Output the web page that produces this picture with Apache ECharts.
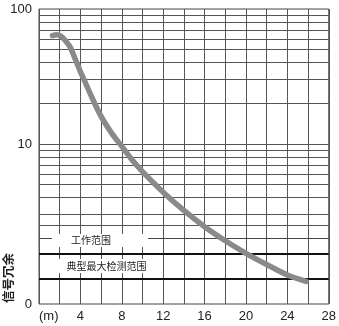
<!DOCTYPE html>
<html>
<head>
<meta charset="utf-8">
<script src="https://cdn.jsdelivr.net/npm/echarts@6/dist/echarts.min.js"></script>
<style>
html,body{margin:0;padding:0;background:#fff;}
#chart{width:339px;height:326px;}
</style>
</head>
<body>
<div id="chart"></div>
<script>
// Data
const distance = [1.3, 1.7, 2.1, 2.5, 3.0, 3.5, 4.0, 4.5, 5.0, 6.0, 7.0, 8.0, 9.0, 10, 12, 14, 16, 18, 20, 22, 24, 25.8];
const excessGain = [63.5, 64.5, 63, 59, 52.4, 42.6, 34.4, 28.3, 23.1, 16.0, 12.1, 9.6, 7.6, 6.25, 4.4, 3.22, 2.44, 1.92, 1.55, 1.28, 1.07, 0.96];
const gridLevels = [2.5, 3, 4, 5, 6, 7, 8, 9, 10, 20, 30, 40, 50, 60, 70, 80, 90];
const thickLevels = [1, 1.55];
const workLevel = 2;
const yMin = 0.6528;
const yMax = 100;
const xMin = 0, xMax = 28, xStep = 2;
const yAxisName = '信号冗余';
const xUnit = '(m)';
const workLabel = '工作范围';
const maxRangeLabel = '典型最大检测范围';

const chart = echarts.init(document.getElementById('chart'), null, {renderer: 'canvas'});

const lineData = distance.map((d, i) => [d, excessGain[i]]);
const markData = []
  .concat(gridLevels.map(v => ({yAxis: v, lineStyle: {color: '#555', width: 1, type: 'solid'}})))
  .concat(thickLevels.map(v => ({yAxis: v, lineStyle: {color: '#111', width: 2, type: 'solid'}})))
  .concat([{yAxis: workLevel, lineStyle: {color: '#444', width: 1, type: 'solid'}}]);

chart.setOption({
  animation: false,
  backgroundColor: '#fff',
  grid: {left: 39, right: 9, top: 9, bottom: 22, show: true, borderColor: '#444', borderWidth: 1, backgroundColor: 'transparent'},
  xAxis: {
    type: 'value', min: xMin, max: xMax, interval: xStep,
    axisLine: {show: false}, axisTick: {show: false},
    splitLine: {show: true, lineStyle: {color: '#555', width: 1}},
    axisLabel: {
      margin: 6, fontSize: 13, color: '#222', fontFamily: 'Liberation Sans',
      alignMinLabel: 'left',
      formatter: v => v === 0 ? xUnit : (v % 4 === 0 ? String(v) : '')
    }
  },
  yAxis: {
    type: 'log', logBase: 10, min: yMin, max: yMax,
    axisLine: {show: false}, axisTick: {show: false},
    splitLine: {show: false},
    axisLabel: {
      margin: 7, fontSize: 13, color: '#222', fontFamily: 'Liberation Sans',
      formatter: v => v < 0.9 ? '0' : (Math.abs(v - 10) < 0.01 || Math.abs(v - 100) < 0.1 ? String(Math.round(v)) : '')
    }
  },
  graphic: [
    {type: 'rect', z: 100, shape: {x: 52, y: 234, width: 96, height: 13}, style: {fill: '#fff'}},
    {type: 'text', z: 101, x: 91, y: 240.5, style: {text: workLabel, fontSize: 10, fill: '#222', fontFamily: 'Noto Sans CJK SC', align: 'center', verticalAlign: 'middle'}},
    {type: 'rect', z: 100, shape: {x: 57, y: 259, width: 95, height: 14}, style: {fill: '#fff'}},
    {type: 'text', z: 101, x: 106.5, y: 266, style: {text: maxRangeLabel, fontSize: 10, fill: '#222', fontFamily: 'Noto Sans CJK SC', align: 'center', verticalAlign: 'middle'}},
    {type: 'text', z: 101, x: 8, y: 278, rotation: Math.PI / 2, style: {text: yAxisName, fontSize: 12.5, fontWeight: 'bold', fill: '#222', fontFamily: 'Noto Sans CJK SC', align: 'center', verticalAlign: 'middle'}}
  ],
  series: [{
    type: 'line',
    data: lineData,
    smooth: 0.3,
    symbol: 'none',
    z: 5,
    lineStyle: {color: '#8a8a8a', width: 5.5, cap: 'round', join: 'round'},
    markLine: {
      silent: true, symbol: ['none', 'none'], label: {show: false},
      z: 1,
      data: markData
    }
  }]
});
</script>
</body>
</html>
